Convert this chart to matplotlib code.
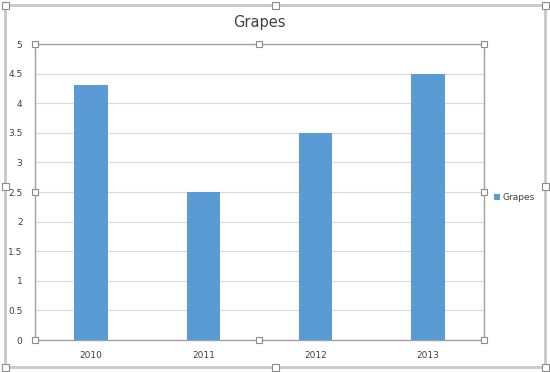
import matplotlib.pyplot as plt
import matplotlib.patches as patches
import numpy as np

# data
years = ['2010', '2011', '2012', '2013']
grapes = [4.3, 2.5, 3.5, 4.5]
y_ticks = [0, 0.5, 1, 1.5, 2, 2.5, 3, 3.5, 4, 4.5, 5]
y_labels = ['0', '0.5', '1', '1.5', '2', '2.5', '3', '3.5', '4', '4.5', '5']

bar_color = '#5B9BD5'
text_color = '#404040'

fig = plt.figure(figsize=(5.5, 3.72), dpi=100)
fig.patch.set_facecolor('white')

ax = fig.add_axes([35/550, 1-340/372, 449/550, 296/372])
x = np.arange(len(years))
ax.bar(x, grapes, width=0.3, color=bar_color, label='Grapes', zorder=3)
ax.set_xlim(-0.5, len(years)-0.5)
ax.set_ylim(0, 5)
ax.set_yticks(y_ticks)
ax.set_yticklabels(y_labels)
ax.set_xticks(x)
ax.set_xticklabels(years)
ax.tick_params(axis='both', length=0, labelsize=6.5, colors=text_color)
ax.tick_params(axis='y', pad=9)
ax.tick_params(axis='x', pad=8)
ax.grid(axis='y', color='#D9D9D9', linewidth=0.8, zorder=0)
for s in ax.spines.values():
    s.set_color('#A0A0A0')
    s.set_linewidth(1.0)

ax.set_title('Grapes', fontsize=10.5, color=text_color, pad=12)

leg = ax.legend(loc='center left', bbox_to_anchor=(1.005, 0.48), frameon=False,
                fontsize=6.5, handlelength=0.6, handleheight=0.6,
                handletextpad=0.3)
for t in leg.get_texts():
    t.set_color(text_color)

# outer chart frame (selected chart look)
frame = patches.Rectangle((5/550, 5/372), 540/550, 362/372, transform=fig.transFigure,
                          fill=False, edgecolor='#C8C8C8', linewidth=2.0)
fig.add_artist(frame)


def handle(px, py, size=6):
    r = patches.Rectangle(((px - size/2)/550, 1 - (py + size/2)/372), size/550, size/372,
                          transform=fig.transFigure, facecolor='white',
                          edgecolor='#8C8C8C', linewidth=0.8, zorder=10)
    fig.add_artist(r)


# handles on outer frame
for hx, hy in [(5, 5), (275, 5), (545, 5), (5, 186), (545, 186), (5, 367), (275, 367), (545, 367)]:
    handle(hx, hy, 7)
# handles on plot area
for hx, hy in [(35, 44), (259, 44), (484, 44), (35, 192), (484, 192), (35, 340), (259, 340), (484, 340)]:
    handle(hx, hy, 6)

fig.savefig('out.png', dpi=100)
